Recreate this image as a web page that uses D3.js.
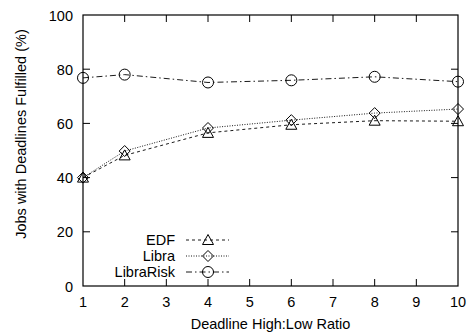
<!DOCTYPE html>
<html>
<head>
<meta charset="utf-8">
<script src="https://cdn.jsdelivr.net/npm/d3@7"></script>
<style>
  body { margin: 0; background: #fff; }
  text { font-family: "Liberation Sans", Arial, sans-serif; fill: #000; }
</style>
</head>
<body>
<div id="chart"></div>
<script>
// data
var ratios = [1, 2, 4, 6, 8, 10];
var edf = [40, 48.2, 56.5, 59.5, 61, 60.8];
var libra = [40, 49.8, 58.3, 61.2, 63.8, 65.3];
var libraRisk = [76.8, 78, 75.1, 75.9, 77.2, 75.4];
var xTicks = [1, 2, 3, 4, 5, 6, 7, 8, 9, 10];
var yTicks = [0, 20, 40, 60, 80, 100];

var series = [
    { name: "EDF", values: edf, dash: "3,3", marker: "triangle" },
    { name: "Libra", values: libra, dash: "1,1.5", marker: "diamond" },
    { name: "LibraRisk", values: libraRisk, dash: "6,3,1.5,3", marker: "circle" }
];

var W = 472, H = 336;
var margin = { top: 15, right: 14, bottom: 50, left: 83 },
    width = W - margin.left - margin.right,
    height = H - margin.top - margin.bottom;
var fs = "14.5px";

var svg = d3.select("#chart").append("svg")
    .attr("width", W)
    .attr("height", H);

var g = svg.append("g")
    .attr("transform", "translate(" + margin.left + "," + margin.top + ")");

var x = d3.scaleLinear().domain([1, 10]).range([0, width]);
var y = d3.scaleLinear().domain([0, 100]).range([height, 0]);

// frame
g.append("rect")
    .attr("width", width)
    .attr("height", height)
    .attr("fill", "none")
    .attr("stroke", "#000")
    .attr("stroke-width", 1.2);

// inward ticks on all four sides
var tl = 7;
g.selectAll(".xt").data(xTicks.slice(1, -1)).enter().append("line")
    .attr("x1", d => x(d)).attr("x2", d => x(d))
    .attr("y1", height).attr("y2", height - tl)
    .attr("stroke", "#000");
g.selectAll(".xt2").data(xTicks.slice(1, -1)).enter().append("line")
    .attr("x1", d => x(d)).attr("x2", d => x(d))
    .attr("y1", 0).attr("y2", tl)
    .attr("stroke", "#000");
g.selectAll(".yt").data(yTicks.slice(1, -1)).enter().append("line")
    .attr("x1", 0).attr("x2", tl)
    .attr("y1", d => y(d)).attr("y2", d => y(d))
    .attr("stroke", "#000");
g.selectAll(".yt2").data(yTicks.slice(1, -1)).enter().append("line")
    .attr("x1", width).attr("x2", width - tl)
    .attr("y1", d => y(d)).attr("y2", d => y(d))
    .attr("stroke", "#000");

// tick labels
g.selectAll(".xl").data(xTicks).enter().append("text")
    .attr("x", d => x(d))
    .attr("y", height + 21)
    .attr("text-anchor", "middle")
    .style("font-size", fs)
    .text(d => d);
g.selectAll(".yl").data(yTicks).enter().append("text")
    .attr("x", -10)
    .attr("y", d => y(d) + 5.5)
    .attr("text-anchor", "end")
    .style("font-size", fs)
    .text(d => d);

// axis titles
svg.append("text")
    .attr("x", margin.left + width / 2)
    .attr("y", 329)
    .attr("text-anchor", "middle")
    .style("font-size", fs)
    .text("Deadline High:Low Ratio");
svg.append("text")
    .attr("transform", "translate(26,134) rotate(-90)")
    .attr("text-anchor", "middle")
    .style("font-size", fs)
    .text("Jobs with Deadlines Fulfilled (%)");

function drawMarker(sel, type, cx, cy) {
    if (type == "circle") {
        sel.append("circle").attr("cx", cx).attr("cy", cy).attr("r", 5.5)
            .attr("fill", "none").attr("stroke", "#000");
    } else if (type == "triangle") {
        sel.append("path")
            .attr("d", "M" + cx + "," + (cy - 5.5) + "L" + (cx + 5.5) + "," + (cy + 4.5) + "L" + (cx - 5.5) + "," + (cy + 4.5) + "Z")
            .attr("fill", "none").attr("stroke", "#000");
    } else {
        sel.append("path")
            .attr("d", "M" + cx + "," + (cy - 5.5) + "L" + (cx + 5.5) + "," + cy + "L" + cx + "," + (cy + 5.5) + "L" + (cx - 5.5) + "," + cy + "Z")
            .attr("fill", "none").attr("stroke", "#000");
    }
}

var line = d3.line().x(d => x(d[0])).y(d => y(d[1]));

series.forEach(function (s) {
    var pts = ratios.map((r, i) => [r, s.values[i]]);
    g.append("path")
        .attr("d", line(pts))
        .attr("fill", "none")
        .attr("stroke", "#000")
        .attr("stroke-width", 0.9)
        .attr("stroke-dasharray", s.dash);
    pts.forEach(function (p) {
        drawMarker(g, s.marker, x(p[0]), y(p[1]));
    });
});

// legend
var legend = svg.append("g");
series.forEach(function (s, i) {
    var ly = 240 + i * 16;
    legend.append("text")
        .attr("x", 175)
        .attr("y", ly + 5)
        .attr("text-anchor", "end")
        .style("font-size", fs)
        .text(s.name);
    legend.append("line")
        .attr("x1", 186).attr("x2", 229)
        .attr("y1", ly).attr("y2", ly)
        .attr("stroke", "#000")
        .attr("stroke-width", 0.9)
        .attr("stroke-dasharray", s.dash);
    drawMarker(legend, s.marker, 208, ly);
});
</script>
</body>
</html>
